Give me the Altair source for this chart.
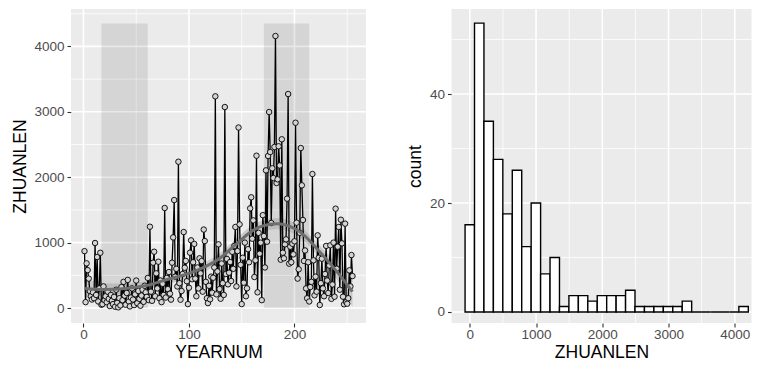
import altair as alt
import pandas as pd
import numpy as np

# ---------------- data ----------------
yearnum = list(range(1, 256))
zhuanlen = [
    # 1-20
    870, 90, 683, 580, 450, 260, 180, 130, 240, 150, 994, 200, 780, 100, 300, 845, 50, 60, 330, 120,
    # 21-62
    180, 90, 250, 140, 30, 200, 110, 60, 170, 20, 280, 80, 10, 150, 40, 320, 120, 400, 190, 50,
    230, 430, 100, 25, 160, 300, 130, 45, 210, 420, 75, 260, 140, 35, 190, 280, 95, 340, 240, 170,
    460, 120,
    # 63-105
    1243, 250, 110, 693, 861, 180, 530, 300, 708, 150, 420, 90, 370, 200, 1529, 160, 460, 290, 550, 220,
    128, 693, 1080, 1651, 480, 600, 330, 2237, 380, 127, 260, 520, 1162, 616, 720, 410, 60, 310, 846, 1035,
    440, 700, 980,
    # 106-169
    450, 180, 620, 300, 760, 530, 718, 250, 1200, 1024, 400, 150, 75, 340, 133, 480, 234, 463, 620, 3237,
    209, 560, 974, 290, 142, 680, 380, 200, 3073, 520, 750, 362, 540, 703, 413, 860, 600, 950, 1239, 330,
    871, 2760, 1279, 660, 60, 769, 387, 1000, 180, 301, 900, 700, 1524, 1693, 1060, 1340, 474, 729, 2329, 240,
    1150, 830, 999, 120,
    # 170-215
    1420, 1100, 620, 2105, 1014, 2324, 2997, 2385, 1300, 2136, 1988, 2462, 4159, 1911, 1968, 2473, 2180, 739, 2580, 846,
    760, 974, 1050, 1672, 3272, 678, 938, 700, 983, 821, 1020, 2833, 1305, 450, 592, 1150, 2446, 1876, 1346, 720,
    880, 300, 150, 700, 100, 321,
    # 216-255
    400, 2049, 729, 194, 480, 250, 1111, 769, 46, 380, 754, 300, 180, 520, 950, 420, 230, 650, 959, 140,
    360, 1000, 173, 1519, 600, 938, 1239, 280, 1350, 989, 173, 57, 1290, 90, 66, 150, 576, 330, 810, 489,
]

# shaded periods
shade_start = [17, 171]
shade_end = [61, 214]
shade_bottom = [0, 0]
shade_top = [4350, 4350]

# smoothed trend with its band
smooth_x = [1, 20, 40, 60, 80, 100, 115, 130, 145, 160, 170, 183, 200, 210, 220, 230, 240, 255]
smooth_y = [300, 285, 300, 345, 440, 530, 630, 770, 980, 1180, 1255, 1290, 1215, 1100, 930, 750, 560, 250]
smooth_lo = [150, 190, 225, 275, 370, 460, 560, 695, 900, 1095, 1170, 1205, 1130, 1015, 840, 650, 440, 20]
smooth_hi = [450, 380, 375, 415, 510, 600, 700, 845, 1060, 1265, 1340, 1375, 1300, 1185, 1020, 850, 680, 480]

# histogram bins
bin_first = -71.25
bin_width = 142.5
n_bins = 30

# axis ticks / grid
left_x_major = [0, 100, 200]
left_x_minor = [50, 150, 250]
left_y_major = [0, 1000, 2000, 3000, 4000]
left_y_minor = [500, 1500, 2500, 3500, 4500]
right_x_major = [0, 1000, 2000, 3000, 4000]
right_x_minor = [500, 1500, 2500, 3500]
right_y_major = [0, 20, 40]
right_y_minor = [10, 30, 50]

# ---------------- tables ----------------
df = pd.DataFrame({"YEARNUM": yearnum, "ZHUANLEN": zhuanlen})
shade = pd.DataFrame({"x1": shade_start, "x2": shade_end, "y1": shade_bottom, "y2": shade_top})
smooth = pd.DataFrame({"x": smooth_x, "y": smooth_y, "lo": smooth_lo, "hi": smooth_hi})
edges = bin_first + bin_width * np.arange(n_bins + 1)
counts, _ = np.histogram(np.array(zhuanlen), bins=edges)
hist = pd.DataFrame({"start": edges[:-1], "end": edges[1:], "count": counts})

FONT = "Liberation Sans"
GRID_MAJOR = 1.6
GRID_MINOR = 0.8


def axis(values, orient, extent=None):
    kw = {}
    if extent is not None:
        kw = {"minExtent": extent, "maxExtent": extent}
    if orient == "bottom":
        kw.update({"labelPadding": 0, "titlePadding": 3})
    else:
        kw.update({"labelPadding": 3, "titlePadding": 3})
    return alt.Axis(values=values, grid=False, domain=False, orient=orient, format="d",
                    labelFont=FONT, labelFontSize=13.5, labelColor="#4d4d4d",
                    titleFont=FONT, titleFontSize=17.5, titleColor="black", titleFontWeight="normal",
                    tickColor="#333333", tickSize=4, tickWidth=1.1, **kw)


def grid_layers(xs, ys, xmaj, xmin, ymaj, ymin, xt, yt, xax, yax):
    layers = []
    for vals, w in ((xmin, GRID_MINOR), (xmaj, GRID_MAJOR)):
        layers.append(alt.Chart(pd.DataFrame({"v": vals})).mark_rule(color="white", strokeWidth=w)
                      .encode(x=alt.X("v:Q", scale=xs, axis=xax, title=xt)))
    for vals, w in ((ymin, GRID_MINOR), (ymaj, GRID_MAJOR)):
        layers.append(alt.Chart(pd.DataFrame({"v": vals})).mark_rule(color="white", strokeWidth=w)
                      .encode(y=alt.Y("v:Q", scale=ys, axis=yax, title=yt)))
    return layers


# ---------------- left panel ----------------
lxs = alt.Scale(domain=[-11.8, 267.8], nice=False, zero=False)
lys = alt.Scale(domain=[-229, 4572], nice=False, zero=False)
lxa = axis(left_x_major, "bottom")
lya = axis(left_y_major, "left", extent=39)
XT, YT = "YEARNUM", "ZHUANLEN"

left_layers = grid_layers(lxs, lys, left_x_major, left_x_minor, left_y_major, left_y_minor, XT, YT, lxa, lya)

rects = alt.Chart(shade).mark_rect(color="black", opacity=0.09).encode(
    x=alt.X("x1:Q", scale=lxs, axis=lxa, title=XT), x2="x2:Q",
    y=alt.Y("y1:Q", scale=lys, axis=lya, title=YT), y2="y2:Q")

band = alt.Chart(smooth).mark_area(color="#999999", opacity=0.4, interpolate="monotone").encode(
    x=alt.X("x:Q", scale=lxs, axis=lxa, title=XT),
    y=alt.Y("lo:Q", scale=lys, axis=lya, title=YT), y2="hi:Q")

line = alt.Chart(df).mark_line(color="black", strokeWidth=1.3).encode(
    x=alt.X("YEARNUM:Q", scale=lxs, axis=lxa, title=XT),
    y=alt.Y("ZHUANLEN:Q", scale=lys, axis=lya, title=YT))

pts = alt.Chart(df).mark_point(shape="circle", fill="#d4d4d4", fillOpacity=1, stroke="black",
                               strokeWidth=0.9, size=30, opacity=1).encode(
    x=alt.X("YEARNUM:Q", scale=lxs, axis=lxa, title=XT),
    y=alt.Y("ZHUANLEN:Q", scale=lys, axis=lya, title=YT))

trend = alt.Chart(smooth).mark_line(color="#6e6e6e", strokeWidth=3, interpolate="monotone").encode(
    x=alt.X("x:Q", scale=lxs, axis=lxa, title=XT),
    y=alt.Y("y:Q", scale=lys, axis=lya, title=YT))

left = alt.layer(*left_layers, rects, band, line, pts, trend).properties(width=295, height=314)

# ---------------- right panel ----------------
rxs = alt.Scale(domain=[-276, 4252], nice=False, zero=False)
rys = alt.Scale(domain=[-2.02, 55.6], nice=False, zero=False)
rxa = axis(right_x_major, "bottom")
rya = axis(right_y_major, "left", extent=24)
RXT, RYT = "ZHUANLEN", "count"

right_layers = grid_layers(rxs, rys, right_x_major, right_x_minor, right_y_major, right_y_minor, RXT, RYT, rxa, rya)

bars = alt.Chart(hist).mark_rect(fill="white", stroke="black", strokeWidth=1.4).encode(
    x=alt.X("start:Q", scale=rxs, axis=rxa, title=RXT), x2="end:Q",
    y=alt.Y("count:Q", scale=rys, axis=rya, title=RYT), y2=alt.datum(0))

right = alt.layer(*right_layers, bars).properties(width=300, height=314)

chart = (alt.hconcat(left, right, spacing=39.5)
         .properties(padding={"left": 3, "top": 0, "right": 0, "bottom": 0}, background="white")
         .configure_view(fill="#ebebeb", stroke=None))

chart.save("out.html", embed_options={"renderer": "svg", "actions": False})
